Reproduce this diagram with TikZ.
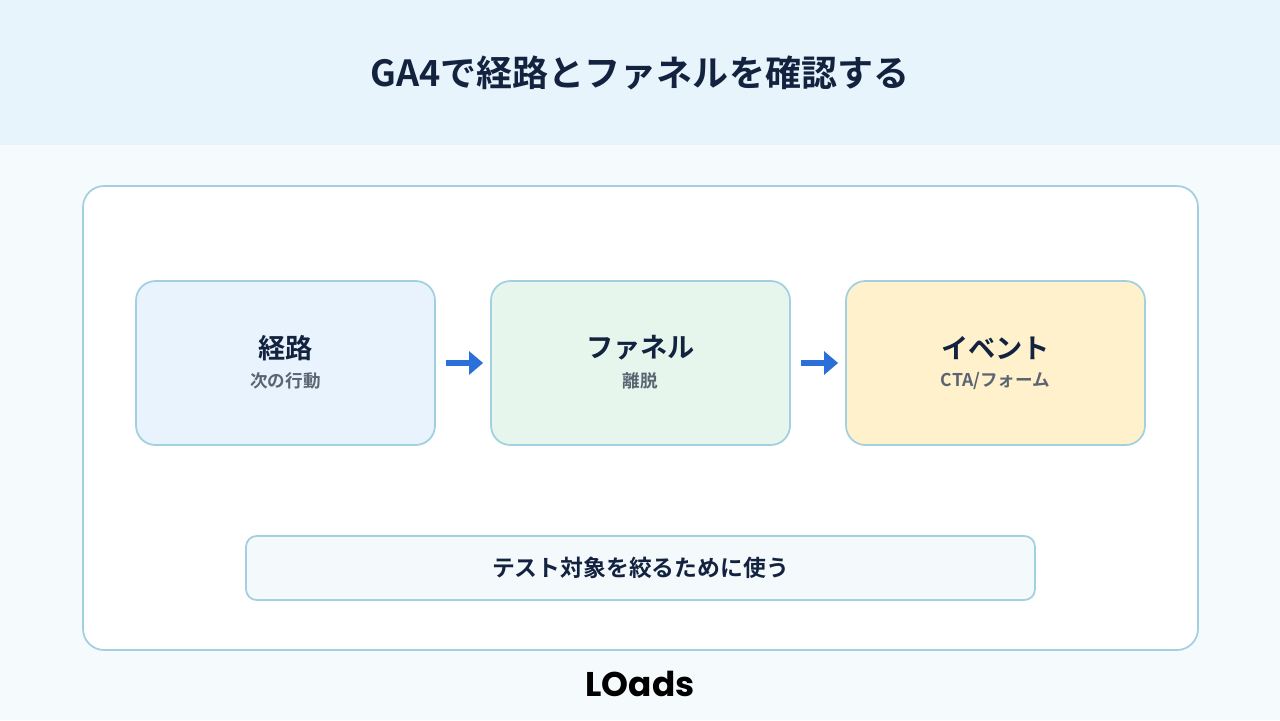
\documentclass[tikz,border=0pt]{standalone}
\usepackage{fontspec}
\setmainfont{Noto Sans CJK JP}[BoldFont={* Bold}]
\newfontfamily\logofont{Poppins}[BoldFont={* Bold}]
\usetikzlibrary{arrows.meta,positioning}
\definecolor{bandblue}{HTML}{E8F4FC}
\definecolor{pagebg}{HTML}{F5FAFD}
\definecolor{edgeblue}{HTML}{A3D0E0}
\definecolor{inkdark}{HTML}{13233F}
\definecolor{inkgrey}{HTML}{5A6472}
\definecolor{fillroute}{HTML}{E8F3FD}
\definecolor{fillfunnel}{HTML}{E6F6EC}
\definecolor{fillevent}{HTML}{FFF1CC}
\definecolor{fillnote}{HTML}{F4F9FC}
\definecolor{arrowblue}{HTML}{2B6FD9}
\tikzset{
  stagebox/.style={draw=edgeblue,line width=1pt,rounded corners=11pt,
    minimum width=5.98cm,minimum height=3.28cm},
  steptext/.style={font=\bfseries\fontsize{15.5}{18}\selectfont,text=inkdark},
  subtext/.style={font=\bfseries\fontsize{10}{12}\selectfont,text=inkgrey},
  flow/.style={-{Triangle[length=8pt,width=13pt]},line width=3.5pt,draw=arrowblue}
}
\begin{document}
\begin{tikzpicture}[x=0.02cm,y=-0.02cm]
\useasboundingbox (0,0) rectangle (1280,720);
\fill[pagebg] (0,0) rectangle (1280,720);
\fill[bandblue] (0,0) rectangle (1280,145);
\node (title) at (640,73) [font=\bfseries\fontsize{20.5}{24}\selectfont,text=inkdark]
  {GA4で経路とファネルを確認する};
\draw[fill=white,draw=edgeblue,line width=1pt,rounded corners=12pt]
  (83,186) rectangle (1198,650);
% steps
\node (route) [stagebox,fill=fillroute] at (285.5,363) {};
\node (funnel) [stagebox,fill=fillfunnel] at (640.5,363) {};
\node (event) [stagebox,fill=fillevent] at (995.5,363) {};
\node [steptext] at (285.5,348) {経路};
\node [subtext] at (285.5,381) {次の行動};
\node [steptext] at (640.5,348) {ファネル};
\node [subtext] at (640.5,381) {離脱};
\node [steptext] at (995.5,348) {イベント};
\node [subtext] at (995.5,381) {CTA/フォーム};
\draw[flow] ([xshift=0.2cm]route.east) -- ([xshift=-4pt]funnel.west);
\draw[flow] ([xshift=0.2cm]funnel.east) -- ([xshift=-4pt]event.west);
% note
\node (note) [draw=edgeblue,fill=fillnote,line width=1pt,rounded corners=6pt,
  minimum width=15.78cm,minimum height=1.28cm,
  font=\bfseries\fontsize{13}{15}\selectfont,text=inkdark] at (640.5,568)
  {テスト対象を絞るために使う};
\node (logo) at (640,684) [font=\logofont\bfseries\fontsize{19.5}{22}\selectfont,text=black] {LOads};
\end{tikzpicture}
\end{document}
